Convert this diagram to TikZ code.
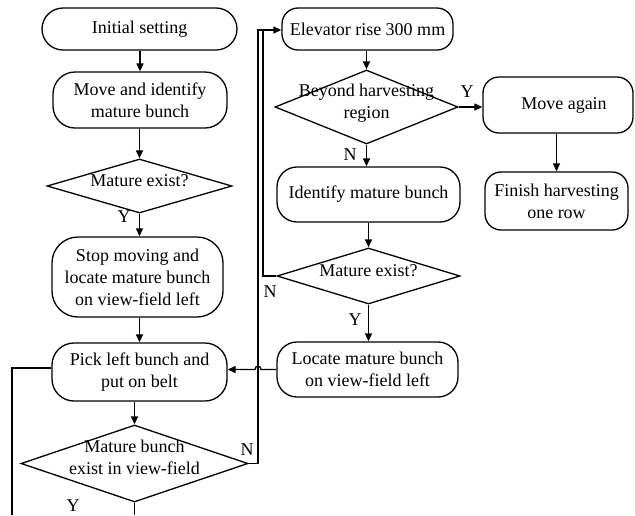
\documentclass[tikz,border=0pt]{standalone}
\usepackage{fontspec}
\setmainfont{Liberation Serif}
\usetikzlibrary{shapes.geometric,arrows.meta}
\newcommand\dtxt[1]{\smash{\makebox[0pt]{\begin{tabular}{@{}c@{}}#1\end{tabular}}}}
\begin{document}
\begin{tikzpicture}[x=1pt,y=-1pt,
  every node/.style={font=\fontsize{18}{22}\selectfont},
  box/.style={draw,line width=1.3pt,rounded corners=#1,align=center,inner sep=0pt},
  box/.default=15pt,
  dia/.style={draw,line width=1.3pt,diamond,inner sep=0pt},
  lab/.style={inner sep=0pt},
  conn/.style={line width=1.3pt},
  arr/.style={line width=1.3pt,-{Triangle[length=8pt,width=7pt]}}]
\useasboundingbox (0,0) rectangle (635,515);
% left column
\node[box=21pt,minimum width=195pt,minimum height=42pt] (init) at (139.5,29) {Initial setting};
\node[box=22pt,minimum width=174pt,minimum height=56pt] (move) at (140,100) {Move and identify\\mature bunch};
\node[dia,minimum width=185pt,minimum height=54pt] (mat1) at (139.5,186) {\dtxt{Mature exist?}};
\node[box=26pt,minimum width=171pt,minimum height=80pt] (stop) at (137.5,277) {Stop moving and\\locate mature bunch\\on view-field left};
\node[box=22pt,minimum width=175pt,minimum height=58pt] (pick) at (139.5,372) {Pick left bunch and\\put on belt};
\node[dia,minimum width=227pt,minimum height=77pt] (mat2) at (134.5,463.5) {\dtxt{Mature bunch\\exist in view-field}};
% right column
\node[box=16pt,minimum width=171pt,minimum height=42pt] (elev) at (367.5,29) {Elevator rise 300 mm};
\node[dia,minimum width=183pt,minimum height=74pt] (beyond) at (366.5,107) {\dtxt{Beyond harvesting\\region}};
\node[box=16pt,minimum width=150pt,minimum height=56pt] (movea) at (558,105) {\hspace*{12pt}Move again};
\node[box=16pt,minimum width=143pt,minimum height=58pt] (finish) at (556.5,201) {Finish harvesting\\one row};
\node[box=20pt,minimum width=183pt,minimum height=55pt] (ident) at (368.5,194.5) {Identify mature bunch};
\node[dia,minimum width=183pt,minimum height=56pt] (mat3) at (368.5,276) {\dtxt{Mature exist?}};
\node[box=20pt,minimum width=181pt,minimum height=55pt] (locate) at (367.5,369.5) {Locate mature bunch\\on view-field left};
% coordinates
\coordinate (c1) at (258,463.5);
\coordinate (c2) at (258,30);
\coordinate (c3) at (263,276);
\coordinate (c4) at (263,30);
\coordinate (d1) at (134.5,515);
\coordinate (l1) at (12,368);
\coordinate (l2) at (12,515);
\coordinate (h1) at (261,369.5);
\coordinate (h2) at (255,369.5);
% connectors
\draw[arr] (init.south -| move.north) -- (move.north);
\draw[arr] (move.south -| mat1.north) -- (mat1.north);
\draw[arr] (mat1.south) -- (mat1.south |- stop.north);
\draw[arr] (stop.south -| pick.north) -- (pick.north);
\draw[arr] (pick.south -| mat2.north) -- (mat2.north);
\draw[conn] (mat2.south) -- (d1);
\draw[conn] (pick.west |- l1) -- (l1) -- (l2);
\draw[arr] (mat2.east) -- (c1) -- (c2) -- (elev.west |- c2);
\draw[conn] (mat3.west) -- (c3) -- (c4);
\draw[arr] (elev.south -| beyond.north) -- (beyond.north);
\draw[arr] (beyond.east) -- (movea.west |- beyond.east);
\draw[arr] (beyond.south) -- (beyond.south |- ident.north);
\draw[arr] (movea.south -| finish.north) -- (finish.north);
\draw[arr] (ident.south -| mat3.north) -- (mat3.north);
\draw[arr] (mat3.south) -- (mat3.south |- locate.north);
\draw[arr] (locate.west) -- (h1) .. controls (261,365) and (255,365) .. (h2) -- (pick.east |- h2);
% labels
\node[lab] (ly1) at (124,217) {Y};
\node[lab] (ly2) at (73,506) {Y};
\node[lab] (ln2) at (247,450) {N};
\node[lab] (ln3) at (270,292) {N};
\node[lab] (ly3) at (467,92) {Y};
\node[lab] (ln1) at (350,155) {N};
\node[lab] (ly4) at (355,320) {Y};
\end{tikzpicture}
\end{document}
